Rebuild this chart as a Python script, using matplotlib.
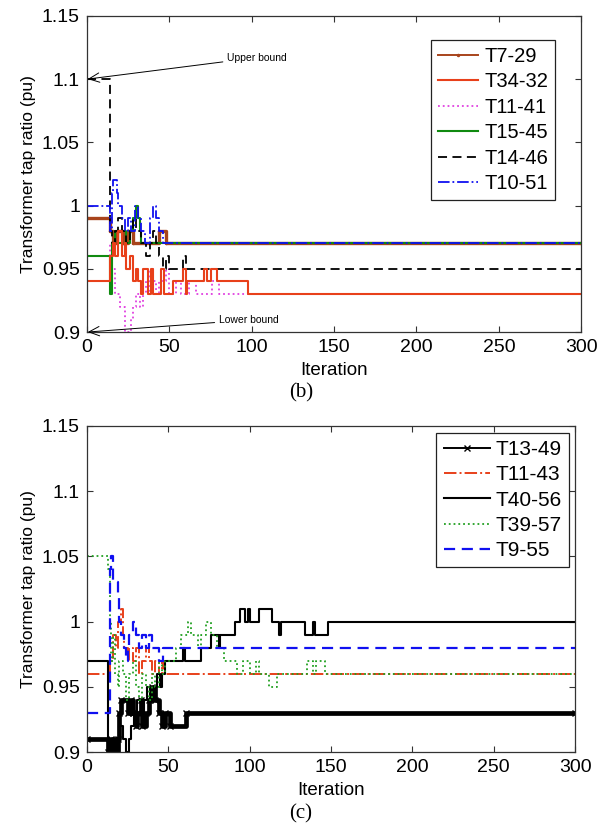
import matplotlib
matplotlib.use("Agg")
import matplotlib.pyplot as plt
from matplotlib.ticker import FixedLocator

plt.rcParams['font.family'] = ['Liberation Sans', 'DejaVu Sans']

N_ITER = 300

# ---- (b) tap changes: iteration where value changes, value from there on
t7_29_it = [0, 14, 16, 18, 22, 25, 28, 44, 48]
t7_29_val = [0.99, 0.98, 0.97, 0.98, 0.97, 0.98, 0.97, 0.98, 0.97]

t34_32_it = [0, 14, 16, 17, 19, 21, 23, 24, 26, 28, 30, 31, 33, 34, 37, 39, 40, 45, 47,
             52, 58, 60, 61, 71, 73, 75, 79, 98]
t34_32_val = [0.94, 0.96, 0.97, 0.96, 0.98, 0.96, 0.97, 0.95, 0.96, 0.94, 0.95, 0.94, 0.93,
              0.95, 0.93, 0.95, 0.93, 0.95, 0.93, 0.94, 0.95, 0.93, 0.94, 0.95, 0.94, 0.95,
              0.94, 0.93]

t11_41_it = [0, 14, 15, 17, 20, 23, 27, 28, 30, 32, 34, 36, 38, 40, 42, 44, 48, 50, 54,
             57, 62, 66, 76, 80]
t11_41_val = [0.94, 0.97, 0.95, 0.93, 0.92, 0.90, 0.91, 0.92, 0.93, 0.92, 0.94, 0.93, 0.95,
              0.94, 0.93, 0.94, 0.95, 0.93, 0.94, 0.93, 0.94, 0.93, 0.94, 0.93]

t15_45_it = [0, 14, 15, 17, 19, 21, 24, 26, 28, 30, 31, 32, 33]
t15_45_val = [0.96, 0.93, 0.97, 0.98, 0.97, 0.98, 0.97, 0.98, 0.99, 1.00, 0.99, 0.98, 0.97]

t14_46_it = [0, 14, 15, 17, 19, 21, 24, 26, 28, 30, 33, 36, 38, 40, 42, 44, 46, 48, 50,
             58, 60]
t14_46_val = [1.10, 0.98, 0.97, 0.98, 0.99, 0.98, 0.97, 0.98, 0.99, 0.98, 0.97, 0.96, 0.97,
              0.98, 0.97, 0.96, 0.95, 0.96, 0.95, 0.96, 0.95]

t10_51_it = [0, 14, 15, 16, 18, 19, 21, 23, 25, 27, 29, 31, 33, 35, 38, 40, 42, 44, 46]
t10_51_val = [1.00, 0.98, 1.01, 1.02, 1.01, 1.00, 0.99, 0.98, 0.99, 0.98, 1.00, 0.99, 0.98,
              0.97, 0.99, 1.00, 0.99, 0.98, 0.97]

# ---- (c)
t13_49_it = [0, 13, 15, 17, 19, 20, 21, 25, 27, 28, 30, 31, 33, 34, 36, 38, 40, 42, 44,
             46, 48, 51, 61]
t13_49_val = [0.91, 0.90, 0.91, 0.90, 0.91, 0.93, 0.94, 0.93, 0.94, 0.93, 0.92, 0.93, 0.94,
              0.92, 0.93, 0.94, 0.95, 0.94, 0.93, 0.92, 0.93, 0.92, 0.93]

t11_43_it = [0, 14, 16, 18, 19, 21, 22, 23, 25, 26, 28, 30, 32, 34, 36, 38, 40, 42, 44,
             46, 47]
t11_43_val = [0.96, 0.97, 0.99, 0.98, 1.00, 1.01, 0.99, 0.98, 0.97, 0.98, 0.97, 0.98, 0.96,
              0.97, 0.98, 0.97, 0.96, 0.97, 0.96, 0.97, 0.96]

t40_56_it = [0, 13, 15, 17, 20, 22, 24, 26, 27, 29, 31, 33, 35, 37, 39, 41, 43, 45, 46,
             48, 59, 60, 70, 76, 81, 82, 91, 94, 97, 99, 100, 106, 114, 118, 119, 134,
             139, 140, 148]
t40_56_val = [0.97, 0.90, 0.91, 0.90, 0.92, 0.91, 0.90, 0.91, 0.92, 0.93, 0.94, 0.93, 0.94,
              0.95, 0.94, 0.95, 0.96, 0.95, 0.96, 0.97, 0.98, 0.97, 0.98, 0.99, 0.98, 0.99,
              1.00, 1.01, 1.00, 1.01, 1.00, 1.01, 1.00, 0.99, 1.00, 0.99, 1.00, 0.99, 1.00]

t39_57_it = [0, 13, 14, 15, 16, 17, 19, 20, 22, 24, 26, 28, 30, 32, 34, 36, 38, 40, 42,
             44, 46, 48, 55, 58, 62, 64, 68, 70, 73, 76, 80, 84, 92, 96, 100, 104, 106,
             112, 117, 135, 139, 141, 146]
t39_57_val = [1.05, 1.04, 1.00, 0.97, 0.99, 0.96, 0.95, 0.97, 0.96, 0.94, 0.96, 0.97, 0.95,
              0.94, 0.96, 0.95, 0.94, 0.96, 0.95, 0.97, 0.96, 0.97, 0.98, 0.99, 1.00, 0.99,
              0.98, 0.99, 1.00, 0.99, 0.98, 0.97, 0.96, 0.97, 0.96, 0.97, 0.96, 0.95, 0.96,
              0.97, 0.96, 0.97, 0.96]

t9_55_it = [0, 14, 15, 16, 19, 20, 21, 23, 24, 25, 26, 28, 30, 32, 34, 36, 38, 40, 44, 47]
t9_55_val = [0.93, 1.04, 1.05, 1.03, 1.02, 1.00, 0.99, 0.98, 0.97, 0.98, 0.99, 1.00, 0.99,
             0.98, 0.99, 0.98, 0.99, 0.98, 0.97, 0.98]

yticks = [0.9, 0.95, 1.0, 1.05, 1.1, 1.15]
ytick_labels = ['0.9', '0.95', '1', '1.05', '1.1', '1.15']
xticks = [0, 50, 100, 150, 200, 250, 300]


def steps(ax, it, val, **kw):
    # hold last value out to the final iteration
    return ax.step(list(it) + [N_ITER], list(val) + [val[-1]], where='post', **kw)


def style_axes(ax):
    ax.set_xlim(0, N_ITER)
    ax.set_ylim(0.9, 1.15)
    ax.xaxis.set_major_locator(FixedLocator(xticks))
    ax.set_yticks(yticks)
    ax.set_yticklabels(ytick_labels)
    ax.tick_params(direction='in', top=True, right=True, length=4, width=0.8,
                   labelsize=14, pad=5, colors='#333333', labelcolor='black')
    for s in ax.spines.values():
        s.set_color('#333333')
        s.set_linewidth(0.9)
    ax.set_xlabel('Iteration', fontsize=13.5, labelpad=4)
    ax.set_ylabel('Transformer tap ratio (pu)', fontsize=12.5, labelpad=4)


fig = plt.figure(figsize=(6.08, 8.33), dpi=100)
ax1 = fig.add_axes([0.143, 0.6014, 0.813, 0.3796])
ax2 = fig.add_axes([0.143, 0.0972, 0.803, 0.3914])

# (b)
steps(ax1, t7_29_it, t7_29_val, color='#a8441c', lw=2.4, marker='.', ms=3, label='T7-29')
steps(ax1, t34_32_it, t34_32_val, color='#e8401a', lw=1.5, label='T34-32', zorder=2.2)
steps(ax1, t11_41_it, t11_41_val, color='#e040e0', lw=1.3, ls=':', label='T11-41')
steps(ax1, t15_45_it, t15_45_val, color='#108a10', lw=1.5, label='T15-45')
steps(ax1, t14_46_it, t14_46_val, color='black', lw=1.3, ls=(0, (5, 3)), label='T14-46')
steps(ax1, t10_51_it, t10_51_val, color='#1010f0', lw=1.3, ls='-.', label='T10-51')
style_axes(ax1)
leg1 = ax1.legend(loc='upper right', bbox_to_anchor=(0.947, 0.924), borderaxespad=0,
                  fontsize=14.5, labelspacing=0.32, handlelength=2.0, handletextpad=0.3,
                  borderpad=0.35, fancybox=False, framealpha=1, edgecolor='#222222')
leg1.get_frame().set_linewidth(0.9)
leg1.get_lines()[0].set_linewidth(1.4)

arrow = dict(arrowstyle='->, head_length=1.0, head_width=0.45', lw=0.7, color='black',
             shrinkA=1, shrinkB=0)
ax1.annotate('Upper bound', xy=(0.5, 1.1), xytext=(85, 1.117), fontsize=7.5,
             va='center', ha='left', arrowprops=arrow)
ax1.annotate('Lower bound', xy=(0.5, 0.9), xytext=(80, 0.9095), fontsize=7.5,
             va='center', ha='left', arrowprops=arrow)

# (c)
steps(ax2, t13_49_it, t13_49_val, color='black', lw=3.4, marker='x', ms=4, label='T13-49')
steps(ax2, t11_43_it, t11_43_val, color='#e8401a', lw=1.4, ls='-.', label='T11-43')
steps(ax2, t40_56_it, t40_56_val, color='black', lw=1.5, label='T40-56')
steps(ax2, t39_57_it, t39_57_val, color='#22a022', lw=1.3, ls=':', label='T39-57')
steps(ax2, t9_55_it, t9_55_val, color='#1010f0', lw=1.6, ls=(0, (5, 3)), label='T9-55')
style_axes(ax2)
leg2 = ax2.legend(loc='upper right', bbox_to_anchor=(0.988, 0.979), borderaxespad=0,
                  fontsize=15, labelspacing=0.3, handlelength=2.2, handletextpad=0.3,
                  borderpad=0.35, fancybox=False, framealpha=1, edgecolor='#222222')
leg2.get_frame().set_linewidth(0.9)
leg2.get_lines()[0].set_linewidth(1.4)

fig.text(0.495, 1 - 393 / 833, '(b)', ha='center', va='center', fontsize=15,
         family='Liberation Serif')
fig.text(0.495, 1 - 814 / 833, '(c)', ha='center', va='center', fontsize=15,
         family='Liberation Serif')

fig.savefig('out.png', dpi=100)
